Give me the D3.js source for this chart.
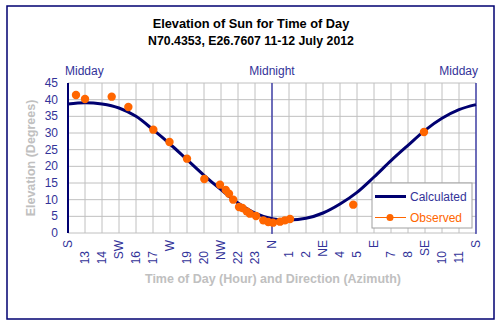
<!DOCTYPE html>
<html>
<head>
<meta charset="utf-8">
<script src="https://cdn.jsdelivr.net/npm/d3@7"></script>
<style>
  body { margin: 0; background: #fff; }
  svg { font-family: "Liberation Sans", Arial, sans-serif; }
</style>
</head>
<body>
<svg id="chart"></svg>
<script>
var width = 501,
  height = 326;

// hour labels along the bottom, one per hour from midday to midday
var hourLabels = ["S", "13", "14", "SW", "16", "17", "W", "19", "20", "NW", "22", "23",
  "N", "1", "2", "NE", "4", "5", "E", "7", "8", "SE", "10", "11", "S"];
var compass = ["S", "SW", "W", "NW", "N", "NE", "E", "SE"];

// calculated elevation (degrees) at each hour step
var calculated = [38.7, 39.1, 38.7, 37.5, 35.0, 31.0, 26.7, 22.0, 17.3, 13.0, 9.0, 6.0,
  4.3, 3.9, 4.4, 6.0, 8.7, 12.2, 16.8, 21.7, 26.3, 30.8, 34.4, 37.0, 38.5];

// observed: hours after midday, elevation
var obsHours = [0.47, 1.0, 2.57, 3.55, 5.02, 5.97, 7.0, 8.02, 8.94, 9.28, 9.47, 9.72,
  10.06, 10.26, 10.51, 10.7, 11.06, 11.49, 11.78, 12.06, 12.47, 12.76, 13.06, 16.78, 20.94];
var obsElev = [41.4, 40.2, 40.9, 37.8, 31.0, 27.3, 22.3, 16.2, 14.5, 12.9, 11.8, 10.0,
  7.8, 7.5, 6.5, 5.8, 5.1, 3.8, 3.3, 3.1, 3.4, 3.8, 4.2, 8.5, 30.3];

var yTicks = [0, 5, 10, 15, 20, 25, 30, 35, 40, 45];

var navy = "#000070", labelBlue = "#333399", orange = "#ff6600", grid = "#c0c0c0";

var margin = {left: 68, right: 25, top: 83, bottom: 93};

var svg = d3.select("#chart")
  .attr("width", width)
  .attr("height", height);

svg.append("rect")
  .attr("x", 7).attr("y", 6)
  .attr("width", 487).attr("height", 313)
  .attr("fill", "#fff")
  .attr("stroke", navy)
  .attr("stroke-width", 1.5);

var x = d3.scaleLinear().domain([0, 24]).range([margin.left, width - margin.right]);
var y = d3.scaleLinear().domain([0, 45]).range([height - margin.bottom, margin.top]);

// grid
svg.append("g")
  .selectAll("line")
  .data(d3.range(1, 25))
  .enter().append("line")
  .attr("x1", d => x(d)).attr("x2", d => x(d))
  .attr("y1", y(0)).attr("y2", y(45))
  .attr("stroke", grid);

svg.append("g")
  .selectAll("line")
  .data(yTicks)
  .enter().append("line")
  .attr("x1", x(0)).attr("x2", x(24))
  .attr("y1", d => y(d)).attr("y2", d => y(d))
  .attr("stroke", grid);

// left axis, midnight and right edge lines
[0, 12, 24].forEach(function (h) {
  svg.append("line")
    .attr("x1", x(h)).attr("x2", x(h))
    .attr("y1", y(45)).attr("y2", y(0) + (h == 0 ? 0 : 1))
    .attr("stroke", h == 0 ? navy : "#2020a0")
    .attr("stroke-width", h == 0 ? 2 : 1.2);
});

// y tick labels
svg.append("g")
  .selectAll("text")
  .data(yTicks)
  .enter().append("text")
  .attr("x", x(0) - 10)
  .attr("y", d => y(d) + 4)
  .attr("text-anchor", "end")
  .attr("font-size", 12)
  .attr("fill", labelBlue)
  .text(d => d);

// x tick labels, rotated
svg.append("g")
  .selectAll("text")
  .data(hourLabels)
  .enter().append("text")
  .attr("transform", function (d, i) {
    var top = compass.includes(d) ? 240 : 251;
    return "translate(" + (x(i) + 4) + "," + top + ") rotate(-90)";
  })
  .attr("text-anchor", "end")
  .attr("font-size", 12)
  .attr("fill", labelBlue)
  .text(d => d);

// curve
var line = d3.line()
  .x((d, i) => x(i))
  .y(d => y(d))
  .curve(d3.curveCatmullRom);

svg.append("path")
  .datum(calculated)
  .attr("d", line)
  .attr("fill", "none")
  .attr("stroke", navy)
  .attr("stroke-width", 3);

// observed points
svg.append("g")
  .selectAll("circle")
  .data(obsHours)
  .enter().append("circle")
  .attr("cx", d => x(d))
  .attr("cy", (d, i) => y(obsElev[i]))
  .attr("r", 4.2)
  .attr("fill", orange);

// titles
svg.append("text")
  .attr("x", 251).attr("y", 28)
  .attr("text-anchor", "middle")
  .attr("font-size", 12.8).attr("font-weight", "bold")
  .text("Elevation of Sun for Time of Day");
svg.append("text")
  .attr("x", 251).attr("y", 45)
  .attr("text-anchor", "middle")
  .attr("font-size", 12.3).attr("font-weight", "bold")
  .text("N70.4353, E26.7607 11-12 July 2012");

svg.append("text")
  .attr("x", x(0) - 3).attr("y", 75)
  .attr("font-size", 12).attr("fill", labelBlue)
  .text("Midday");
svg.append("text")
  .attr("x", x(12)).attr("y", 75)
  .attr("text-anchor", "middle")
  .attr("font-size", 12).attr("fill", labelBlue)
  .text("Midnight");
svg.append("text")
  .attr("x", x(24) + 2).attr("y", 75)
  .attr("text-anchor", "end")
  .attr("font-size", 12).attr("fill", labelBlue)
  .text("Midday");

svg.append("text")
  .attr("transform", "translate(35," + y(22.5) + ") rotate(-90)")
  .attr("text-anchor", "middle")
  .attr("font-size", 12.5).attr("font-weight", "bold")
  .attr("fill", "#c0c0c0")
  .text("Elevation (Degrees)");

svg.append("text")
  .attr("x", 273).attr("y", 283)
  .attr("text-anchor", "middle")
  .attr("font-size", 12.5).attr("font-weight", "bold")
  .attr("fill", "#c0c0c0")
  .text("Time of Day (Hour) and Direction (Azimuth)");

// legend
var legend = svg.append("g");
legend.append("rect")
  .attr("x", 372).attr("y", 183)
  .attr("width", 100).attr("height", 45)
  .attr("fill", "#fff")
  .attr("stroke", "#a0a0a0");
legend.append("line")
  .attr("x1", 375).attr("x2", 406)
  .attr("y1", 196.5).attr("y2", 196.5)
  .attr("stroke", navy).attr("stroke-width", 3);
legend.append("text")
  .attr("x", 410).attr("y", 201)
  .attr("font-size", 12).attr("fill", labelBlue)
  .text("Calculated");
legend.append("line")
  .attr("x1", 375).attr("x2", 406)
  .attr("y1", 217.5).attr("y2", 217.5)
  .attr("stroke", orange).attr("stroke-width", 1);
legend.append("circle")
  .attr("cx", 390).attr("cy", 217.5).attr("r", 3.5)
  .attr("fill", orange);
legend.append("text")
  .attr("x", 410).attr("y", 222)
  .attr("font-size", 12).attr("fill", orange)
  .text("Observed");
</script>
</body>
</html>
